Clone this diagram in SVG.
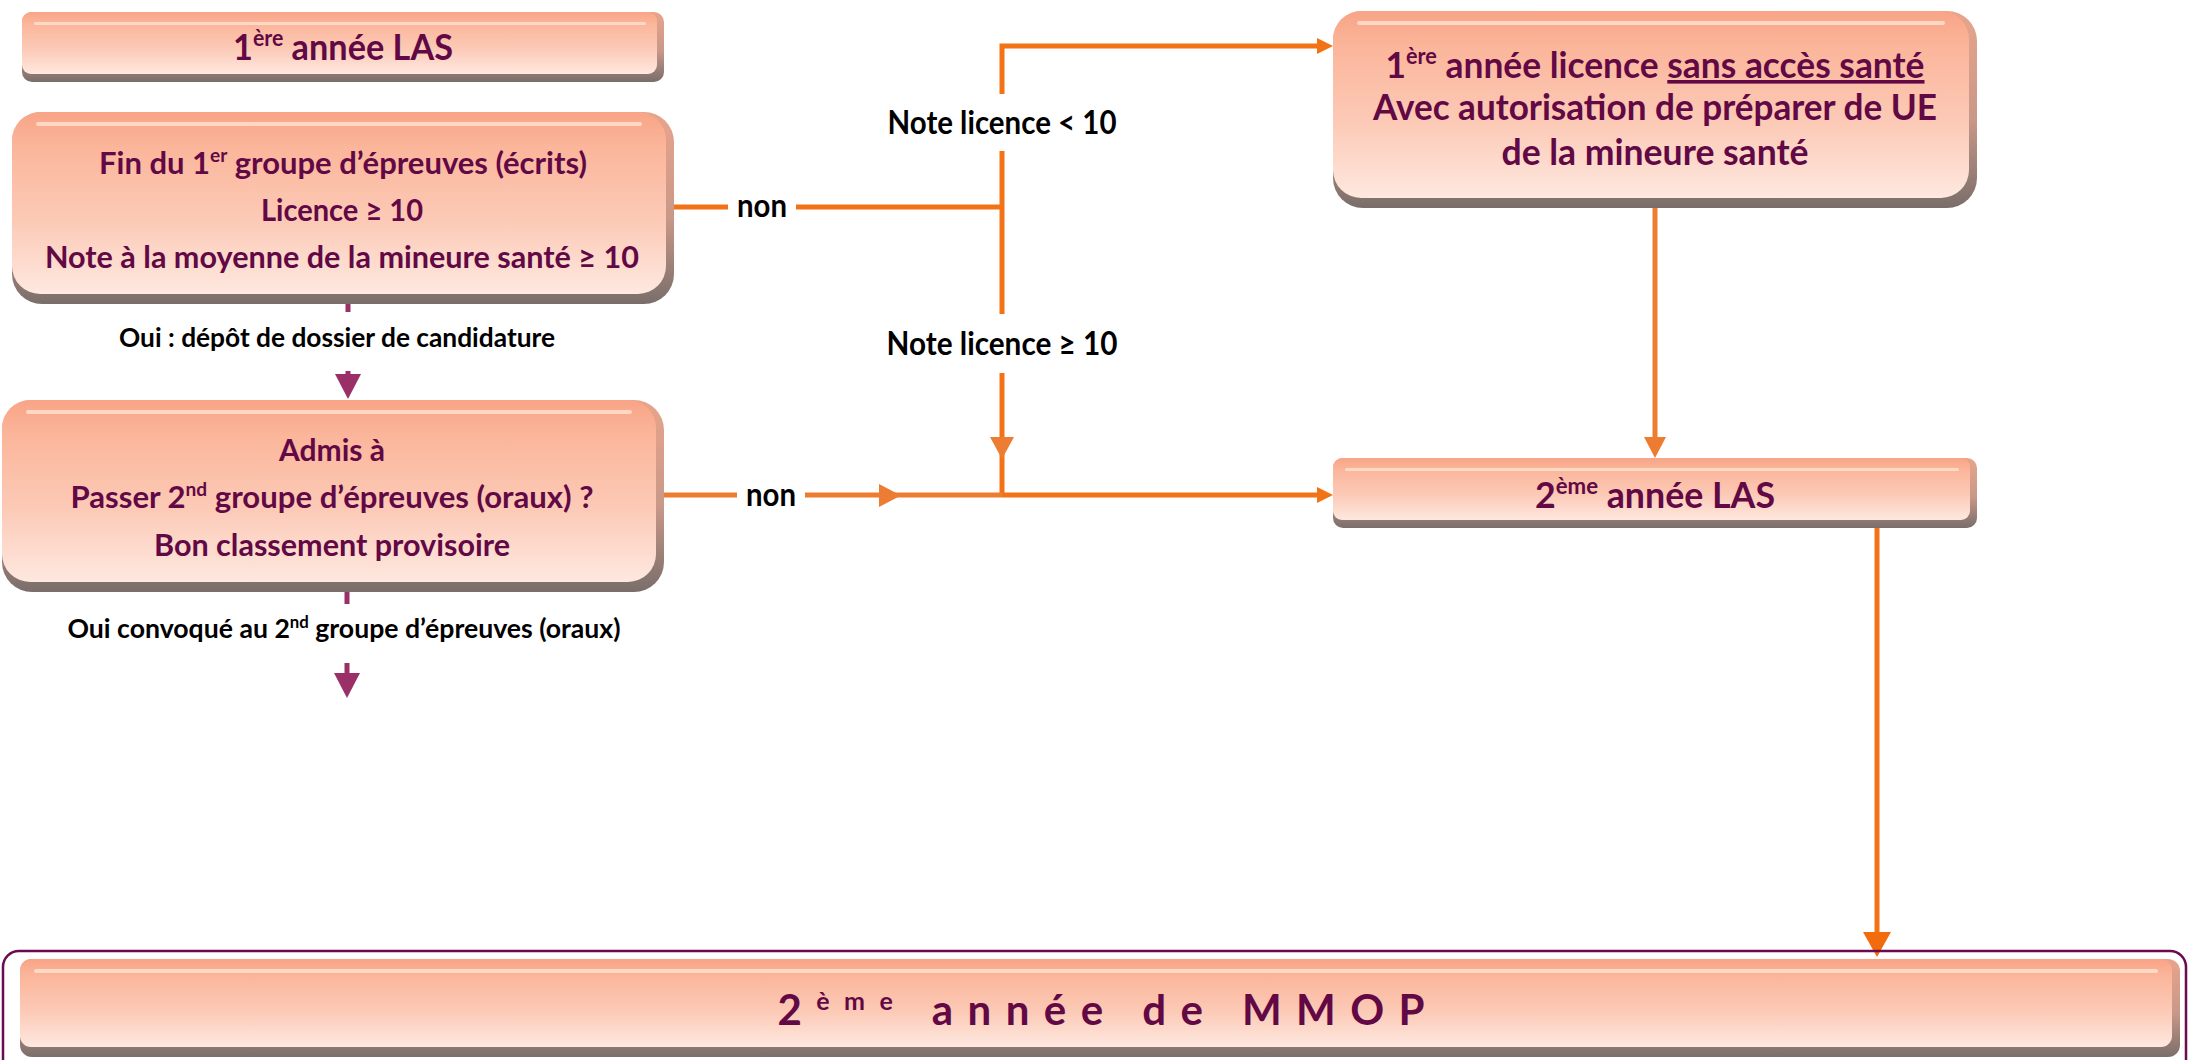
<svg xmlns="http://www.w3.org/2000/svg" width="2190" height="1060" viewBox="0 0 2190 1060">
<style>
  .base { fill: url(#gDark); }
  .face { fill: url(#gFace); }
  .hl { fill: #FFE4CF; opacity: 0.8; }
  .t { font-family: Lato, "Open Sans", "Liberation Sans", sans-serif; font-weight: 700; fill: #620845; text-anchor: middle; }
  .lbl { font-family: Lato, "Open Sans", "Liberation Sans", sans-serif; font-weight: 700; fill: #000; text-anchor: middle; }
  .or { fill: none; stroke: #F47216; stroke-width: 5; }
  .or2 { fill: none; stroke: #EE7C30; stroke-width: 5; }
  .pu { fill: none; stroke: #9B3068; stroke-width: 5; }
  .frame { fill: none; stroke: #6B0A4E; stroke-width: 2.5; }
</style>
<defs>
  <linearGradient id="gDark" x1="0" y1="0" x2="0" y2="1">
    <stop offset="0" stop-color="#E8A48C"/>
    <stop offset="0.55" stop-color="#C99888"/>
    <stop offset="1" stop-color="#7A6E6A"/>
  </linearGradient>
  <linearGradient id="gFace" x1="0" y1="0" x2="0" y2="1">
    <stop offset="0" stop-color="#F8A487"/>
    <stop offset="0.2" stop-color="#FBB69B"/>
    <stop offset="0.6" stop-color="#FCCAB7"/>
    <stop offset="1" stop-color="#FEE8DF"/>
  </linearGradient>
  <marker id="aS" markerUnits="userSpaceOnUse" markerWidth="16" markerHeight="16" refX="0" refY="8" orient="auto">
    <path d="M0,0 L16,8 L0,16 z" fill="#F47216"/>
  </marker>
  <marker id="aM" markerUnits="userSpaceOnUse" markerWidth="22" markerHeight="22" refX="0" refY="11" orient="auto">
    <path d="M0,0 L21,11 L0,22 z" fill="#EE7C30"/>
  </marker>
  <marker id="aL" markerUnits="userSpaceOnUse" markerWidth="26" markerHeight="28" refX="0" refY="14" orient="auto">
    <path d="M0,0 L25,14 L0,28 z" fill="#F26B0C"/>
  </marker>
  <marker id="aP" markerUnits="userSpaceOnUse" markerWidth="25" markerHeight="26" refX="0" refY="13" orient="auto">
    <path d="M0,0 L25,13 L0,26 z" fill="#9B3068"/>
  </marker>
</defs>
<rect x="0" y="0" width="2190" height="1060" fill="#FFFFFF"/>

<g id="connectors">
  <path class="or" d="M673,207 H728"/>
  <path class="or" d="M796,207 H1002"/>
  <path class="or" d="M1002,94 V46 H1317" marker-end="url(#aS)"/>
  <path class="or" d="M1002,151 V314"/>
  <path class="or" d="M1002,373 V495"/>
  <polygon points="990,437 1014,437 1002,459" fill="#EC7D32"/>
  <path class="or2" d="M663,495 H737"/>
  <path class="or2" d="M805,495 H1002"/>
  <polygon points="879,484 879,507 901,495.5" fill="#EC7D32"/>
  <path class="or" d="M1002,495 H1317" marker-end="url(#aS)"/>
  <path class="or2" d="M1655,207 V437" marker-end="url(#aM)"/>
  <path class="or" d="M1877,528 V932" marker-end="url(#aL)"/>
  <path class="pu" d="M348,303 V312"/>
  <path class="pu" d="M348,371 V374" marker-end="url(#aP)"/>
  <path class="pu" d="M347,592 V604"/>
  <path class="pu" d="M347,663 V673" marker-end="url(#aP)"/>
  <text class="lbl" x="762" y="217" font-size="32" textLength="50" lengthAdjust="spacingAndGlyphs">non</text>
  <text class="lbl" x="771" y="506" font-size="32" textLength="50" lengthAdjust="spacingAndGlyphs">non</text>
  <text class="lbl" x="1002" y="134" font-size="32" textLength="229" lengthAdjust="spacingAndGlyphs">Note licence &lt; 10</text>
  <text class="lbl" x="1002" y="355" font-size="32" textLength="231" lengthAdjust="spacingAndGlyphs">Note licence ≥ 10</text>
  <text class="lbl" x="337" y="347" font-size="27" textLength="436" lengthAdjust="spacingAndGlyphs">Oui : dépôt de dossier de candidature</text>
  <text class="lbl" x="344" y="638" font-size="27" textLength="553" lengthAdjust="spacingAndGlyphs">Oui convoqué au 2<tspan dy="-10" font-size="17">nd</tspan><tspan dy="10"> groupe d’épreuves (oraux)</tspan></text>
</g>

<g id="node-las1">
  <rect class="base" x="22" y="12" width="642" height="70" rx="10"/>
  <rect class="face" x="22" y="12" width="635" height="62" rx="9"/>
  <rect class="hl" x="34" y="22" width="612" height="3" rx="1.5"/>
  <text class="t" x="343" y="60" font-size="37" textLength="220" lengthAdjust="spacingAndGlyphs">1<tspan dy="-14" font-size="23">ère</tspan><tspan dy="14"> année LAS</tspan></text>
</g>

<g id="node-fin">
  <rect class="base" x="12" y="112" width="662" height="192" rx="30"/>
  <rect class="face" x="12" y="112" width="654" height="182" rx="28"/>
  <rect class="hl" x="36" y="122" width="606" height="4" rx="2"/>
  <text class="t" x="343" y="174" font-size="31" textLength="488" lengthAdjust="spacingAndGlyphs">Fin du 1<tspan dy="-12" font-size="19">er</tspan><tspan dy="12"> groupe d’épreuves (écrits)</tspan></text>
  <text class="t" x="342" y="221" font-size="31" textLength="162" lengthAdjust="spacingAndGlyphs">Licence ≥ 10</text>
  <text class="t" x="342" y="268" font-size="31" textLength="594" lengthAdjust="spacingAndGlyphs">Note à la moyenne de la mineure santé ≥ 10</text>
</g>

<g id="node-admis">
  <rect class="base" x="2" y="400" width="662" height="192" rx="30"/>
  <rect class="face" x="2" y="400" width="654" height="182" rx="28"/>
  <rect class="hl" x="26" y="410" width="606" height="4" rx="2"/>
  <text class="t" x="332" y="461" font-size="31" textLength="106" lengthAdjust="spacingAndGlyphs">Admis à</text>
  <text class="t" x="332" y="508" font-size="31" textLength="523" lengthAdjust="spacingAndGlyphs">Passer 2<tspan dy="-12" font-size="19">nd</tspan><tspan dy="12"> groupe d’épreuves (oraux) ?</tspan></text>
  <text class="t" x="332" y="556" font-size="31" textLength="356" lengthAdjust="spacingAndGlyphs">Bon classement provisoire</text>
</g>

<g id="node-licence">
  <rect class="base" x="1333" y="11" width="644" height="197" rx="30"/>
  <rect class="face" x="1333" y="11" width="636" height="187" rx="28"/>
  <rect class="hl" x="1357" y="21" width="588" height="4" rx="2"/>
  <text class="t" x="1655" y="78" font-size="36" textLength="539" lengthAdjust="spacingAndGlyphs">1<tspan dy="-14" font-size="22">ère</tspan><tspan dy="14"> année licence </tspan><tspan text-decoration="underline">sans accès santé</tspan></text>
  <text class="t" x="1655" y="120" font-size="36" textLength="564" lengthAdjust="spacingAndGlyphs">Avec autorisation de préparer de UE</text>
  <text class="t" x="1655" y="165" font-size="36" textLength="307" lengthAdjust="spacingAndGlyphs">de la mineure santé</text>
</g>

<g id="node-las2">
  <rect class="base" x="1333" y="458" width="644" height="70" rx="10"/>
  <rect class="face" x="1333" y="458" width="637" height="62" rx="9"/>
  <rect class="hl" x="1345" y="468" width="614" height="3" rx="1.5"/>
  <text class="t" x="1655" y="508" font-size="37" textLength="240" lengthAdjust="spacingAndGlyphs">2<tspan dy="-14" font-size="23">ème</tspan><tspan dy="14"> année LAS</tspan></text>
</g>

<g id="node-mmop">
  <rect class="frame" x="3" y="951" width="2183" height="130" rx="16"/>
  <rect class="base" x="20" y="959" width="2160" height="98" rx="12"/>
  <rect class="face" x="20" y="959" width="2152" height="88" rx="11"/>
  <rect class="hl" x="34" y="969" width="2124" height="4" rx="2"/>
  <text class="t" x="1101" y="1025" font-size="42" textLength="647" lengthAdjust="spacing">2<tspan dy="-15" font-size="25">ème</tspan><tspan dy="15"> année de MMOP</tspan></text>
</g>
</svg>
